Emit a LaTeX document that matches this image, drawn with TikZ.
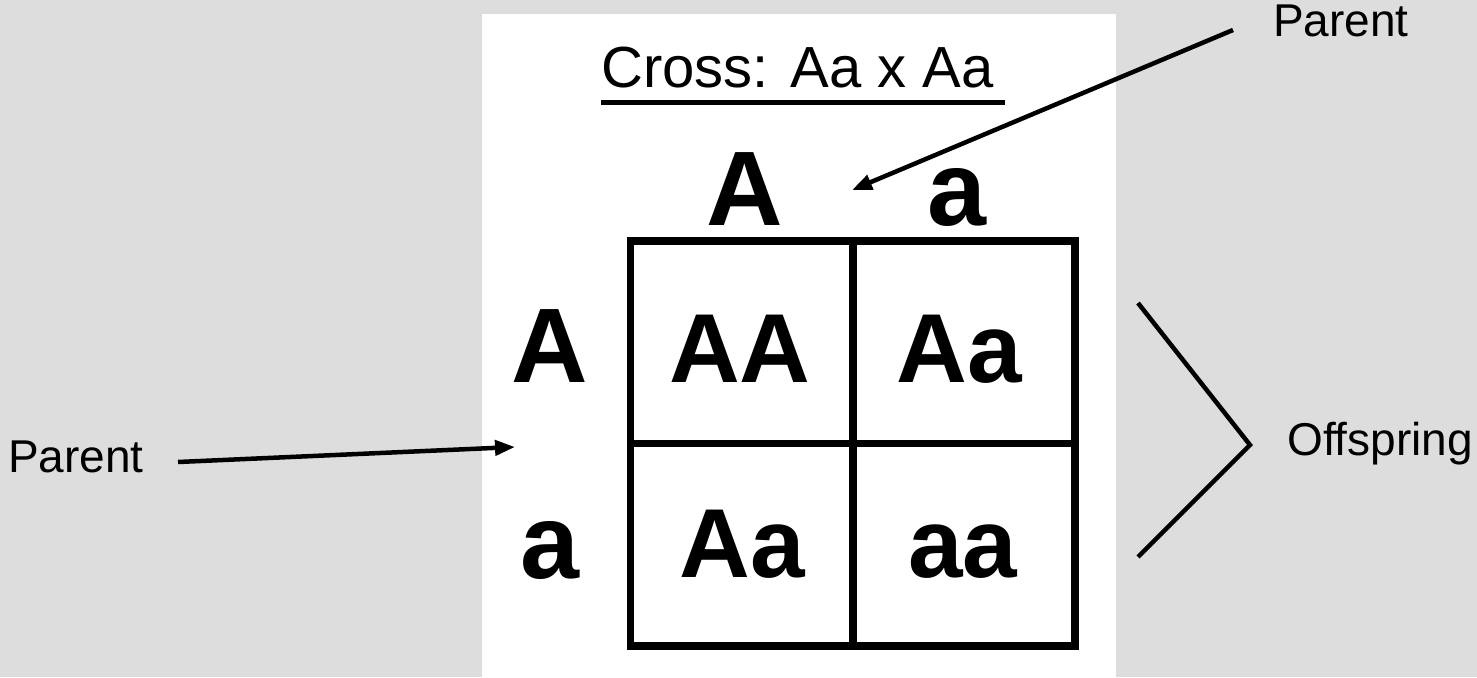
\documentclass[tikz,border=0pt]{standalone}
\usepackage{fontspec}
\setmainfont{Liberation Sans}
\usetikzlibrary{arrows.meta}
\definecolor{slidebg}{RGB}{221,221,221}
\begin{document}
\begin{tikzpicture}[x=1pt,y=-1pt,
  plain/.style={font=\fontsize{46}{50}\selectfont, inner sep=0pt, anchor=base west},
  allele/.style={font=\fontsize{106}{110}\selectfont\bfseries, inner sep=0pt, anchor=base},
  geno/.style={font=\fontsize{98}{100}\selectfont\bfseries, inner sep=0pt, anchor=base},
  cell/.style={draw, line width=7.5pt, minimum width=222.25pt, minimum height=202.5pt, inner sep=0pt},
  pointer/.style={line width=4.5pt, -{Triangle[length=20pt,width=15pt]}},
  brace/.style={line width=4.5pt},
]
% slide background and white panel
\fill[slidebg] (0,0) rectangle (1477,677);
\useasboundingbox (0,0) rectangle (1477,677);
\fill[white] (482,14) rectangle (1116,677);

% heading
\node[font=\fontsize{58}{60}\selectfont, inner sep=0pt, anchor=base] (title) at (797.5,88) {Cross: Aa x Aa};
\draw[line width=5pt] (601,102.5) -- (1005,102.5);

% parental alleles
\node[allele] (colA) at (745,225) {A};
\node[allele] (cola) at (957,225) {a};
\node[allele] (rowA) at (550,382) {A};
\node[allele] (rowa) at (550,578) {a};

% Punnett square
\node[cell] (c11) at (741.75,342.25) {};
\node[cell] (c12) at (963.75,342.25) {};
\node[cell] (c21) at (741.75,544.75) {};
\node[cell] (c22) at (963.75,544.75) {};
\node[geno] (g11) at (740,382) {AA};
\node[geno] (g12) at (959,382) {Aa};
\node[geno] (g21) at (742,577) {Aa};
\node[geno] (g22) at (963,577) {aa};

% side labels
\node[plain] (ptop) at (1273,37) {Parent};
\node[plain] (pleft) at (8,472) {Parent};
\node[plain] (off) at (1287,455) {Offspring};

% pointers
\coordinate (ptopfrom) at (1233,30);
\coordinate (ptopto) at (852,190);
\coordinate (pleftfrom) at (178,462);
\coordinate (pleftto) at (515,447);
\draw[pointer] (ptopfrom) -- (ptopto);
\draw[pointer] (pleftfrom) -- (pleftto);

% offspring bracket
\coordinate (brtop) at (1138,303);
\coordinate (brtip) at (1250,445);
\coordinate (brbot) at (1138,557);
\draw[brace] (brtop) -- (brtip) -- (brbot);
\end{tikzpicture}
\end{document}
